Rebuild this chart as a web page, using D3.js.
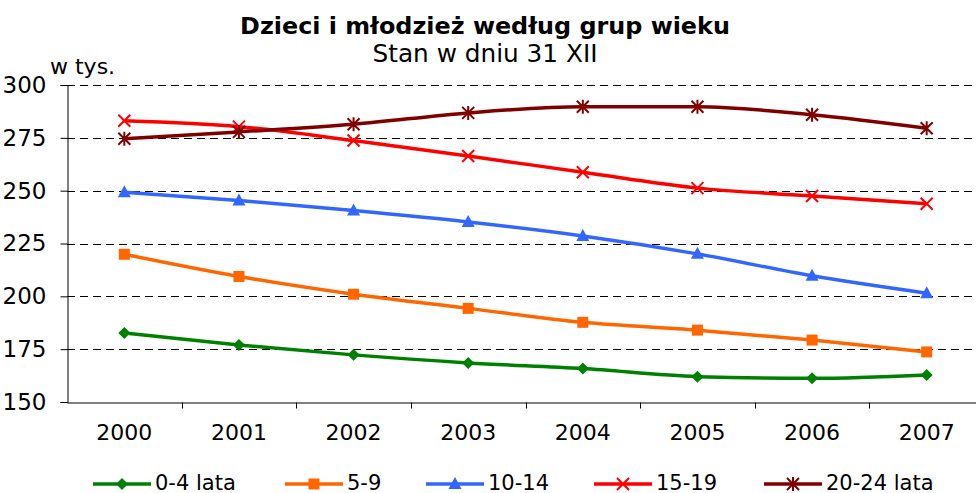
<!DOCTYPE html>
<html><head><meta charset="utf-8">
<script src="https://cdn.jsdelivr.net/npm/d3@7"></script>
<style>body{margin:0;background:#fff}svg{display:block}</style>
</head><body>
<svg id="c" width="976" height="493"></svg>
<script>
const years = ["2000","2001","2002","2003","2004","2005","2006","2007"];
const yTicks = [150,175,200,225,250,275,300];
const seriesNames = ["0-4 lata","5-9","10-14","15-19","20-24 lata"];
const s0_4   = [182.7,177.0,172.3,168.5,165.8,162.0,161.2,162.8];
const s5_9   = [219.9,209.4,201.0,194.3,187.7,184.0,179.3,173.7];
const s10_14 = [249.2,245.4,240.6,235.2,228.6,220.1,209.7,201.5];
const s15_19 = [283.1,280.3,273.7,266.4,258.7,251.2,247.5,243.8];
const s20_24 = [274.6,277.8,281.4,286.8,289.7,289.7,285.9,279.5];
const seriesValues = [s0_4,s5_9,s10_14,s15_19,s20_24];
const colors = ["#008000","#FF6600","#3366FF","#FF0000","#800000"];
const markers = ["diamond","square","triangle","x","star"];

const svg = d3.select("#c");
const font = "'DejaVu Sans', Verdana, sans-serif";
const L = 67, R = 984, T = 85, B = 402;

const x = d3.scaleBand().domain(years).range([L, R]);
const y = d3.scaleLinear().domain([150,300]).range([B, T]);

function fit(t, w){
  const cur = t.node().getComputedTextLength();
  const fs = parseFloat(t.attr("font-size"));
  t.attr("font-size", fs*w/cur);
}

// title
fit(svg.append("text").attr("x",485).attr("y",34).attr("text-anchor","middle")
  .attr("font-family",font).attr("font-weight","bold").attr("font-size",20)
  .text("Dzieci i młodzież według grup wieku"), 490);
fit(svg.append("text").attr("x",485).attr("y",62).attr("text-anchor","middle")
  .attr("font-family",font).attr("font-size",19)
  .text("Stan w dniu 31 XII"), 225);
svg.append("text").attr("x",50).attr("y",74)
  .attr("font-family",font).attr("font-size",22).text("w tys.");

// gridlines
svg.append("g").selectAll("line").data(yTicks.filter(d=>d>150)).join("line")
  .attr("x1",L).attr("x2",976).attr("y1",d=>Math.round(y(d))+0.5).attr("y2",d=>Math.round(y(d))+0.5)
  .attr("stroke","#000").attr("stroke-width",1).attr("stroke-dasharray","8,5");

// y axis
const yAxis = d3.axisLeft(y).tickValues(yTicks).tickSize(7).tickPadding(14);
const gy = svg.append("g").attr("transform",`translate(${L+0.5},0)`).call(yAxis);
gy.select(".domain").attr("stroke","#000");
gy.selectAll("text").attr("font-family",font).attr("font-size",23).attr("fill","#000");

// x axis
const xAxis = d3.axisBottom(x).tickSize(0).tickPadding(22);
const gx = svg.append("g").attr("transform",`translate(0,${B+0.5})`).call(xAxis);
gx.select(".domain").attr("stroke","#000");
gx.selectAll("text").attr("font-family",font).attr("font-size",22).attr("fill","#000");
gx.selectAll(".bound").data(years.slice(1)).join("line").attr("class","bound")
  .attr("x1",d=>Math.round(x(d))+0.5).attr("x2",d=>Math.round(x(d))+0.5)
  .attr("y1",0).attr("y2",6).attr("stroke","#000");

function drawMarker(g, type, color, cx, cy){
  const s = 6;
  if(type==="diamond"){
    g.append("path").attr("d",`M${cx},${cy-s} L${cx+s},${cy} L${cx},${cy+s} L${cx-s},${cy} Z`).attr("fill",color);
  } else if(type==="square"){
    g.append("rect").attr("x",cx-5.5).attr("y",cy-5.5).attr("width",11).attr("height",11).attr("fill",color);
  } else if(type==="triangle"){
    g.append("path").attr("d",`M${cx},${cy-7} L${cx+6.5},${cy+5} L${cx-6.5},${cy+5} Z`).attr("fill",color);
  } else if(type==="x"){
    g.append("path").attr("d",`M${cx-6},${cy-6} L${cx+6},${cy+6} M${cx+6},${cy-6} L${cx-6},${cy+6}`)
      .attr("stroke",color).attr("stroke-width",2).attr("fill","none");
  } else if(type==="star"){
    g.append("path").attr("d",`M${cx-6},${cy-6} L${cx+6},${cy+6} M${cx+6},${cy-6} L${cx-6},${cy+6} M${cx},${cy-7} L${cx},${cy+7}`)
      .attr("stroke",color).attr("stroke-width",2).attr("fill","none");
  }
}

const line = d3.line().x((d,i)=>x(years[i])+x.bandwidth()/2).y(d=>y(d)).curve(d3.curveMonotoneX);
seriesValues.forEach((vals,k)=>{
  const g = svg.append("g");
  g.append("path").datum(vals).attr("d",line).attr("fill","none")
    .attr("stroke",colors[k]).attr("stroke-width",3.5).attr("stroke-linejoin","round");
  vals.forEach((v,i)=>drawMarker(g, markers[k], colors[k], x(years[i])+x.bandwidth()/2, y(v)));
});

// legend
const legX = [93,285,426,594,764];
const ly = 484;
seriesNames.forEach((n,k)=>{
  const g = svg.append("g");
  g.append("line").attr("x1",legX[k]).attr("x2",legX[k]+58).attr("y1",ly).attr("y2",ly)
    .attr("stroke",colors[k]).attr("stroke-width",3.5);
  drawMarker(g, markers[k], colors[k], legX[k]+29, ly);
  g.append("text").attr("x",legX[k]+62).attr("y",ly+6).attr("font-family",font).attr("font-size",21)
    .text(n);
});
</script>
</body></html>
